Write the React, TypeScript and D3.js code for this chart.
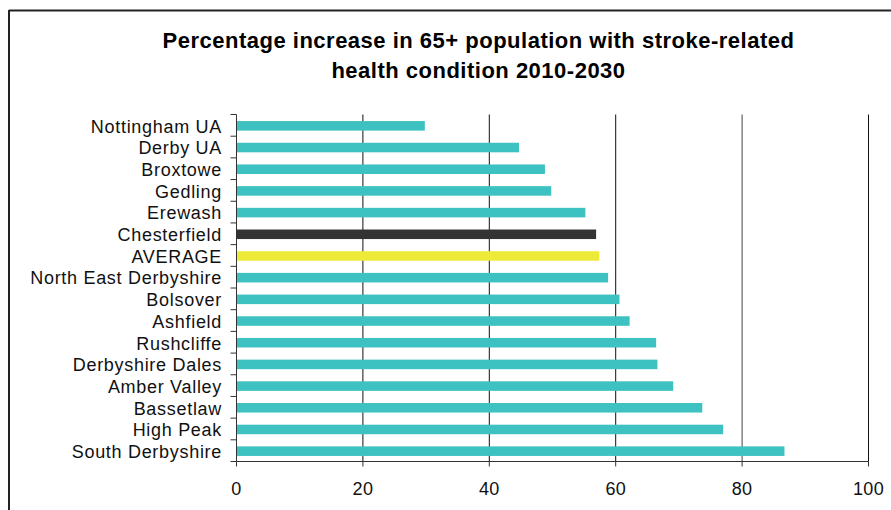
import React from "react";
import * as d3 from "d3";

const categories = [
  "Nottingham UA",
  "Derby UA ",
  "Broxtowe",
  "Gedling",
  "Erewash ",
  "Chesterfield ",
  "AVERAGE",
  "North East Derbyshire",
  "Bolsover ",
  "Ashfield ",
  "Rushcliffe",
  "Derbyshire Dales ",
  "Amber Valley",
  "Bassetlaw",
  "High Peak ",
  "South Derbyshire",
];
const values = [29.8, 44.7, 48.8, 49.8, 55.2, 56.9, 57.4, 58.8, 60.6, 62.2, 66.4, 66.6, 69.1, 73.7, 77.0, 86.7];
const xTicks = [0, 20, 40, 60, 80, 100];
const titleLines = ["Percentage increase in 65+ population with stroke-related", "health condition 2010-2030"];

const W = 891;
const H = 510;
const left = 236.5;
const right = 868.5;
const top = 114.5;
const bottom = 461.5;

export default function App() {
  const x = d3.scaleLinear().domain([0, 100]).range([left, right]);
  const y = d3.scaleBand<number>().domain(d3.range(categories.length)).range([top, bottom]).paddingInner(0).paddingOuter(0);
  const bw = y.bandwidth();
  const barH = bw * 0.44;
  const colorFor = (name: string) => {
    const n = name.trim();
    if (n === "Chesterfield") return "#333333";
    if (n === "AVERAGE") return "#EEEA3A";
    return "#3DC1C1";
  };
  const font = "Arial, 'Liberation Sans', sans-serif";
  const boundaries = d3.range(categories.length + 1).map((i) => top + i * bw);

  return (
    <svg width={W} height={H} style={{ position: "absolute", left: 0, top: 0 }} fontFamily={font}>
      <rect x={0} y={0} width={W} height={H} fill="#fff" />
      {/* frame */}
      <line x1={9} y1={10.5} x2={W} y2={10.5} stroke="#222" strokeWidth={2} />
      <line x1={9} y1={10} x2={9} y2={H} stroke="#222" strokeWidth={2} />
      {/* title */}
      {titleLines.map((t, i) => (
        <text key={i} x={478.5} y={48 + i * 29.5} textAnchor="middle" fontSize={22} fontWeight="bold" letterSpacing={0.5} fill="#000">
          {t}
        </text>
      ))}
      {/* grid lines */}
      {xTicks.slice(1).map((t) => (
        <line key={t} x1={x(t)} x2={x(t)} y1={top} y2={bottom} stroke={t === 80 ? "#444" : "#111"} strokeWidth={1} />
      ))}
      {/* bars */}
      {values.map((v, i) => (
        <rect key={i} x={x(0)} y={(y(i) as number) + (bw - barH) / 2 + 0.5} width={x(v) - x(0)} height={barH} fill={colorFor(categories[i])} />
      ))}
      {/* y axis */}
      <line x1={left} x2={left} y1={top} y2={bottom} stroke="#333" strokeWidth={1} />
      {boundaries.map((b, i) => (
        <line key={i} x1={left - 6} x2={left} y1={b} y2={b} stroke="#333" strokeWidth={1} />
      ))}
      {categories.map((c, i) => (
        <text key={c} x={222} y={(y(i) as number) + bw / 2 + 1} dy="0.35em" textAnchor="end" fontSize={18} letterSpacing={0.7} fill="#111">
          {c}
        </text>
      ))}
      {/* x axis */}
      <line x1={left} x2={right} y1={bottom} y2={bottom} stroke="#333" strokeWidth={1} />
      {xTicks.map((t) => (
        <g key={t}>
          <line x1={x(t)} x2={x(t)} y1={bottom} y2={bottom + 5} stroke="#333" strokeWidth={1} />
          <text x={x(t)} y={495} textAnchor="middle" fontSize={18} letterSpacing={0.3} fill="#111">
            {t}
          </text>
        </g>
      ))}
    </svg>
  );
}
